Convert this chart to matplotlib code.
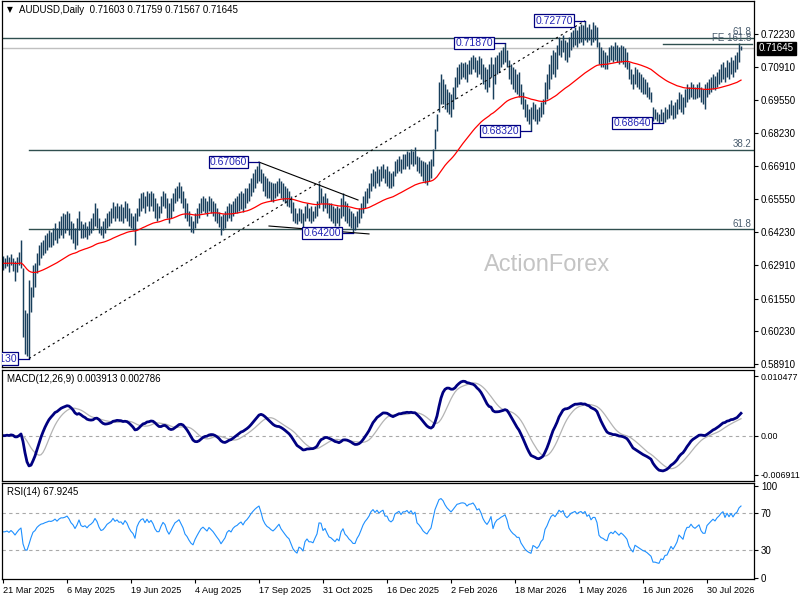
import numpy as np
import pandas as pd
import matplotlib
matplotlib.use("Agg")
import matplotlib.pyplot as plt

# ---------------- data (prices in 1e-4 units, one value per daily bar) ----------------
high_pips = [
    6325, 6318, 6330, 6322, 6335, 6318, 6305, 6322, 6345, 6390,
    6280, 6110, 6095, 6230, 6200,
    6290, 6300, 6340, 6370, 6385, 6390,
    6410, 6420, 6430, 6425, 6440, 6460, 6440, 6470, 6490, 6500,
    6495, 6510, 6500, 6470, 6460, 6440, 6480, 6510, 6470, 6455,
    6465, 6450, 6470, 6480, 6500, 6540, 6520,
    6480, 6450, 6470, 6480, 6500, 6510,
    6520, 6545, 6530, 6540, 6530,
    6535, 6525, 6550, 6540, 6520, 6500, 6490,
    6500,
    6520, 6560, 6580, 6585, 6570, 6590, 6580,
    6590, 6580, 6560, 6540, 6530, 6570, 6590, 6580, 6560,
    6540, 6560, 6580, 6600, 6610,
    6625, 6610, 6590, 6560,
    6540, 6510, 6490, 6470, 6500, 6520,
    6540, 6560, 6570, 6560, 6550, 6570, 6560, 6550, 6540,
    6520, 6505, 6490, 6495, 6510,
    6530, 6540, 6535, 6550, 6560,
    6570, 6580, 6590, 6580, 6600,
    6600, 6620, 6640, 6660, 6680,
    6690, 6706,
    6680, 6660, 6650, 6640, 6630, 6625, 6620,
    6620, 6630, 6640, 6630, 6620, 6610, 6600,
    6590, 6570, 6545, 6520, 6500, 6520, 6515, 6500,
    6530, 6540, 6520, 6530, 6510, 6530, 6550,
    6622, 6600,
    6570, 6580, 6560, 6540, 6540, 6530, 6520, 6530, 6520,
    6560, 6580, 6550, 6540,
    6520, 6510, 6500, 6490, 6510, 6520, 6540,
    6570, 6590, 6600, 6620,
    6660, 6680, 6670, 6690, 6680,
    6690, 6700, 6680, 6690, 6670, 6660, 6670,
    6710, 6720, 6730, 6720, 6740,
    6740, 6750, 6745, 6760, 6750, 6767,
    6730, 6725, 6715, 6710, 6705, 6700, 6710, 6720,
    6760, 6840, 6900, 7030, 7060,
    7040, 7020, 7000, 6990, 6980, 7010, 7050,
    7090, 7100, 7110, 7105, 7110, 7100, 7120,
    7130, 7140, 7130, 7120, 7135, 7125,
    7100, 7090, 7080, 7100,
    7130, 7100, 7130, 7140,
    7150, 7160, 7170, 7187, 7160,
    7120, 7100, 7090, 7080, 7060, 7070,
    7020, 6990, 6960, 6940, 6920,
    6930,
    6950, 6940, 6920, 6930, 6950, 6960,
    7030, 7060, 7100,
    7140, 7160, 7150, 7180,
    7210, 7200, 7220, 7200, 7190, 7210,
    7230, 7240, 7250, 7240, 7255, 7265, 7260,
    7277,
    7250, 7265, 7245, 7270, 7260, 7250,
    7190, 7170, 7160, 7150, 7140,
    7170, 7180, 7175, 7190, 7180, 7170, 7180, 7175, 7165, 7150,
    7110, 7080, 7060, 7090, 7080, 7070, 7060, 7050,
    7040, 7030, 7010, 6990,
    6930, 6920, 6910, 6900, 6920, 6910, 6930, 6920,
    6940, 6955, 6935, 6950, 6960,
    6990, 6980, 6970, 7000,
    7020, 7010, 7030, 7020,
    7010, 7020, 7030, 7010, 7000, 7020, 7030,
    7040, 7050, 7060, 7055, 7070, 7080,
    7100, 7110, 7090, 7120, 7110,
    7130, 7120, 7140, 7150,
    7187, 7175.9,
]
low_pips = [
    6270, 6278, 6285, 6262, 6290, 6268, 6225, 6262, 6290, 6280,
    6000, 5930, 5925, 5913, 6100,
    6160, 6200, 6260, 6290, 6320, 6330,
    6340, 6350, 6365, 6365, 6370, 6390, 6380, 6400, 6410, 6400,
    6420, 6430, 6410, 6395, 6380, 6355, 6370, 6430, 6400, 6400,
    6405, 6395, 6410, 6420, 6430, 6450, 6440,
    6420, 6410, 6400, 6420, 6440, 6450,
    6460, 6480, 6470, 6480, 6470,
    6470, 6460, 6480, 6470, 6450, 6440, 6430,
    6372,
    6470, 6490, 6510, 6520, 6500, 6530, 6510,
    6530, 6510, 6480, 6470, 6480, 6500, 6530, 6520, 6480,
    6460, 6480, 6510, 6540, 6550,
    6560, 6540, 6520, 6480,
    6470, 6450, 6425, 6420, 6440, 6460,
    6480, 6500, 6510, 6500, 6490, 6510, 6500, 6490, 6470,
    6460, 6445, 6412, 6430, 6440,
    6470, 6480, 6470, 6490, 6500,
    6500, 6510, 6515, 6505, 6520,
    6540, 6550, 6570, 6585, 6600,
    6620, 6630,
    6620, 6590, 6570, 6560, 6560, 6550, 6545,
    6560, 6570, 6580, 6560, 6550, 6540, 6530,
    6525, 6500, 6470, 6460, 6455, 6470, 6460, 6440,
    6470, 6480, 6470, 6460, 6470, 6480, 6490,
    6520, 6540,
    6510, 6520, 6500, 6480, 6470, 6460, 6450, 6460, 6450,
    6480, 6490, 6470, 6460,
    6450, 6440, 6421, 6430, 6445, 6460, 6480,
    6500, 6520, 6540, 6560,
    6590, 6610, 6600, 6620, 6610,
    6630, 6640, 6620, 6610, 6600, 6600, 6610,
    6650, 6660, 6670, 6660, 6680,
    6680, 6690, 6680, 6700, 6690, 6700,
    6670, 6660, 6650, 6630, 6620, 6615, 6630, 6640,
    6690, 6760, 6830, 6910, 6940,
    6940, 6920, 6910, 6900, 6890, 6920, 6960,
    7010, 7020, 7040, 7050, 7040, 7030, 7060,
    7060, 7080, 7070, 7050, 7060, 7040,
    7020, 7000, 6990, 7010,
    7050, 6960, 7020, 7060,
    7070, 7090, 7100, 7110, 7090,
    7040, 7020, 7000, 6990, 6980, 6970,
    6940, 6920, 6890, 6870, 6860,
    6832,
    6880, 6870, 6860, 6870, 6890, 6900,
    6940, 6960, 7000,
    7040, 7060, 7050, 7080,
    7140, 7130, 7150, 7120, 7110, 7130,
    7160, 7170, 7180, 7170, 7185, 7190, 7180,
    7200,
    7190, 7200, 7180, 7190, 7200, 7170,
    7100, 7090, 7090, 7080, 7080,
    7110, 7120, 7110, 7120, 7110, 7100, 7110, 7100, 7090, 7080,
    7040, 7020, 7000, 7020, 7010, 7000, 6990, 6980,
    6980, 6970, 6960, 6950,
    6870, 6880, 6870, 6865, 6870, 6864, 6868, 6880,
    6885, 6895, 6880, 6885, 6900,
    6920, 6910, 6900, 6930,
    6950, 6960, 6970, 6960,
    6960, 6965, 6970, 6950, 6940, 6920, 6970,
    6980, 6990, 7000, 6995, 7010, 7020,
    7030, 7040, 7030, 7050, 7040,
    7060, 7050, 7070, 7080,
    7110, 7156.7,
]

date_labels = ["21 Mar 2025", "6 May 2025", "19 Jun 2025", "4 Aug 2025", "17 Sep 2025",
               "31 Oct 2025", "16 Dec 2025", "2 Feb 2026", "18 Mar 2026", "1 May 2026",
               "16 Jun 2026", "30 Jul 2026"]
date_label_bars = [0, 32, 64, 96, 128, 160, 192, 224, 256, 288, 320, 352]

price_ticks = [0.72230, 0.70910, 0.69550, 0.68230, 0.66910, 0.65550,
               0.64230, 0.62910, 0.61550, 0.60230, 0.58910]
macd_ticks = [0.010477, 0.0, -0.006911]
macd_tick_labels = ["0.010477", "0.00", "-0.006911"]
rsi_ticks = [100, 70, 30, 0]

last_price = 0.71645
header = "AUDUSD,Daily  0.71603 0.71759 0.71567 0.71645"
macd_header = "MACD(12,26,9) 0.003913 0.002786"
rsi_header = "RSI(14) 67.9245"

# swing labels: (bar index, price, text)
pivots = [(13, 0.59130, "0.59130"), (128, 0.67060, "0.67060"), (175, 0.64200, "0.64200"),
          (251, 0.71870, "0.71870"), (264, 0.68320, "0.68320"), (291, 0.72770, "0.72770"),
          (330, 0.68640, "0.68640")]

fib_low_bar, fib_low = 13, 0.5913
fib_high_bar, fib_high = 291, 0.7277
fib_levels = [(0.6756, "38.2"), (0.6434, "61.8")]
upper_level = (0.7206, "61.8")
fe_level = (0.7184, "FE 161.8", 330)
tri_upper = [(128, 0.6706), (177.5, 0.6553)]
tri_lower = [(133, 0.6448), (183, 0.6416)]

# ---------------- computations ----------------
H = np.array(high_pips) / 10000.0
L = np.array(low_pips) / 10000.0
n = len(H)
x = np.arange(n)
price = pd.Series((H + L) / 2.0)

ema55 = price.ewm(span=55, adjust=False).mean()
macd = price.ewm(span=12, adjust=False).mean() - price.ewm(span=26, adjust=False).mean()
signal = macd.rolling(9, min_periods=1).mean()

delta = price.diff().fillna(0).values
seed = np.mean(np.abs(delta[1:15])) / 2
ag, al = seed, seed
rsi = np.empty(n)
for k in range(n):
    g = max(delta[k], 0)
    l_ = max(-delta[k], 0)
    if k > 0:
        ag = (ag * 13 + g) / 14
        al = (al * 13 + l_) / 14
    rsi[k] = 100 - 100 / (1 + ag / al) if al > 0 else 100

# ---------------- figure ----------------
W, Hpx = 800, 600
plt.rcParams["font.family"] = ["Liberation Sans", "DejaVu Sans"]
fig = plt.figure(figsize=(8, 6), dpi=100)
fig.patch.set_facecolor("white")

def frac(x0, y0, x1, y1):
    return [x0 / W, 1 - y1 / Hpx, (x1 - x0) / W, (y1 - y0) / Hpx]

ax = fig.add_axes(frac(2, 1, 754, 367))
axm = fig.add_axes(frac(2, 370, 754, 481))
axr = fig.add_axes(frac(2, 483, 754, 579))

xl = (-0.5, 375.5)
bar_color = "#183f5c"
fib_color = "#2f4f4f"
lab_color = "#4a5d6e"

for a in (ax, axm, axr):
    a.set_xlim(*xl)
    for s in a.spines.values():
        s.set_color("black")
        s.set_linewidth(0.9)
    a.yaxis.tick_right()
    a.tick_params(axis="y", direction="out", length=3, width=0.8, labelsize=7,
                  pad=2, colors="black", left=False, right=True)
    a.set_facecolor("white")

# main panel
ax.set_ylim(0.58789, 0.73562)
ax.vlines(x, L, H, color=bar_color, lw=1.05)
ax.plot(x, ema55, color="#ff0000", lw=0.9)
ax.set_yticks(price_ticks)
ax.set_yticklabels([f"{v:.5f}" for v in price_ticks])
ax.set_xticks([])

ax.axhline(last_price, color="#c0c0c0", lw=1.0, zorder=1)
ax.axhline(upper_level[0], color=fib_color, lw=1.0, zorder=1)
ax.text(374, upper_level[0] + 0.0003, upper_level[1], ha="right", va="bottom",
        fontsize=7, color=lab_color)
for lvl, txt in fib_levels:
    ax.plot([fib_low_bar, xl[1]], [lvl, lvl], color=fib_color, lw=1.0, zorder=1)
    ax.text(374, lvl + 0.0003, txt, ha="right", va="bottom", fontsize=7, color=lab_color)
ax.plot([fe_level[2], 374.5], [fe_level[0], fe_level[0]], color=fib_color, lw=1.0)
ax.text(374, fe_level[0] + 0.0003, fe_level[1], ha="right", va="bottom",
        fontsize=7, color=lab_color)

ax.plot([fib_low_bar, fib_high_bar], [fib_low, fib_high], color="black",
        lw=0.8, ls=(0, (2, 3)))
ax.plot(*zip(*tri_upper), color="black", lw=0.8)
ax.plot(*zip(*tri_lower), color="black", lw=0.8)

for b, p, t in pivots:
    ax.plot([b - 5, b], [p, p], color="#000080", lw=0.9)
    ax.text(b - 5.9, p, t, ha="right", va="center", fontsize=7.5, color="#2323b4",
            bbox=dict(boxstyle="square,pad=0.12", fc="white", ec="#000080", lw=0.9),
            clip_on=True, zorder=5)

ax.text(0.7247, 0.2787, "ActionForex", transform=ax.transAxes, ha="center", va="center",
        fontsize=17, color="#c4c4c4")
ax.text(5 / 752, 1 - 9 / 366, "\u25BC", transform=ax.transAxes, fontsize=5.5,
        va="center", ha="left", family=["DejaVu Sans"])
ax.text(17 / 752, 1 - 9 / 366, header, transform=ax.transAxes, fontsize=7,
        va="center", ha="left")
ax.annotate("0.71645", xy=(1.0, last_price), xycoords=("axes fraction", "data"),
            xytext=(3.5, 0), textcoords="offset points", ha="left", va="center",
            fontsize=7, color="white",
            bbox=dict(boxstyle="square,pad=0.2", fc="black", ec="black"),
            annotation_clip=False)

# MACD panel
axm.set_ylim(-0.007965, 0.011531)
axm.axhline(0, color="#a9a9a9", lw=0.8, ls=(0, (3, 3)))
axm.plot(x, signal, color="#b4b4b4", lw=0.9)
axm.plot(x, macd, color="#000080", lw=2.0)
axm.set_yticks(macd_ticks)
axm.set_yticklabels(macd_tick_labels)
axm.tick_params(axis="y", labelsize=6.4, pad=1.5)
axm.set_xticks([])
axm.text(5 / 752, 1 - 9 / 111, macd_header, transform=axm.transAxes, fontsize=7,
         va="center", ha="left")

# RSI panel
axr.set_ylim(-1.0, 102.8)
for lv in (70, 30):
    axr.axhline(lv, color="#a9a9a9", lw=0.8, ls=(0, (3, 3)))
axr.plot(x, rsi, color="#1e90ff", lw=0.8)
axr.set_yticks(rsi_ticks)
axr.set_yticklabels([str(v) for v in rsi_ticks])
axr.set_xticks(date_label_bars)
axr.set_xticklabels(date_labels, ha="left", fontsize=6.6)
axr.tick_params(axis="x", direction="out", length=3, width=0.8, pad=2)
axr.text(5 / 752, 1 - 9 / 96, rsi_header, transform=axr.transAxes, fontsize=7,
         va="center", ha="left")

fig.savefig("out.png", dpi=100, facecolor="white")
